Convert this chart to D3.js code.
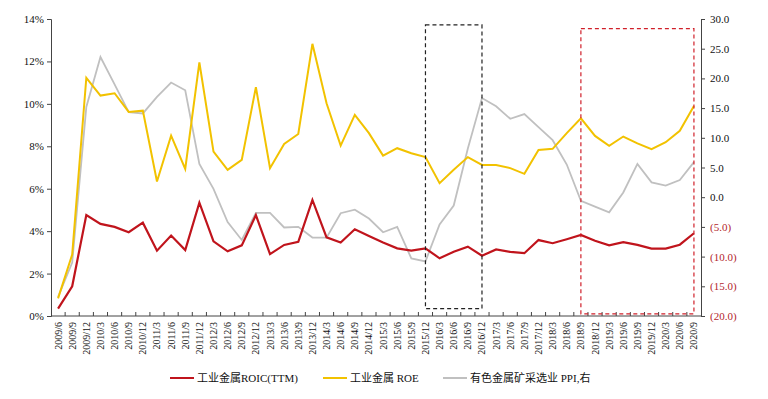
<!DOCTYPE html>
<html>
<head>
<meta charset="utf-8">
<script src="https://cdn.jsdelivr.net/npm/d3@7"></script>
<style>
  body { margin: 0; background: #fff; }
  svg text { font-family: "Liberation Serif", "Times New Roman", "Noto Sans CJK SC", serif; }
</style>
</head>
<body>
<div id="chart"></div>
<script>
(function(){

var quarters = ["2009/6","2009/9","2009/12",
  "2010/3","2010/6","2010/9","2010/12",
  "2011/3","2011/6","2011/9","2011/12",
  "2012/3","2012/6","2012/9","2012/12",
  "2013/3","2013/6","2013/9","2013/12",
  "2014/3","2014/6","2014/9","2014/12",
  "2015/3","2015/6","2015/9","2015/12",
  "2016/3","2016/6","2016/9","2016/12",
  "2017/3","2017/6","2017/9","2017/12",
  "2018/3","2018/6","2018/9","2018/12",
  "2019/3","2019/6","2019/9","2019/12",
  "2020/3","2020/6","2020/9"];

// 工业金属 ROIC(TTM), %
var roic = [0.35,1.4,4.76,4.34,4.2,3.95,4.4,3.08,3.79,3.11,5.34,3.52,3.05,3.33,4.76,
  2.92,3.35,3.5,5.47,3.71,3.46,4.09,3.77,3.46,3.19,3.08,3.19,2.72,3.03,3.27,2.84,
  3.14,3.02,2.96,3.58,3.43,3.62,3.82,3.55,3.33,3.48,3.35,3.18,3.18,3.36,3.9];

// 工业金属 ROE, %
var roe = [0.83,2.9,11.23,10.39,10.5,9.62,9.68,6.34,8.5,6.93,11.95,7.75,6.89,7.36,10.79,
  6.97,8.11,8.58,12.83,10.03,8.03,9.48,8.62,7.56,7.91,7.67,7.49,6.26,6.89,7.49,7.12,
  7.12,6.97,6.7,7.83,7.88,8.62,9.32,8.49,8.02,8.46,8.14,7.86,8.19,8.73,9.9];

// 有色金属矿采选业 PPI (right axis)
var ppi = [-16.8,-11,15.2,23.6,19.0,14.3,14.1,16.9,19.3,18.0,5.6,1.4,-4.2,-7.2,-2.65,
  -2.65,-5.1,-5.0,-6.8,-6.8,-2.7,-2.1,-3.6,-5.9,-5.0,-10.3,-10.8,-4.6,-1.4,8.2,16.7,
  15.3,13.2,14.0,11.8,9.6,5.5,-0.6,-1.6,-2.55,0.8,5.6,2.5,1.95,2.9,5.9];

var leftTicks = [0,2,4,6,8,10,12,14];
var rightTicks = [-20,-15,-10,-5,0,5,10,15,20,25,30];

var seriesNames = ["工业金属ROIC(TTM)", "工业金属 ROE", "有色金属矿采选业 PPI,右"];

// highlight boxes: from/to quarter, left-axis value range
var boxes = [
  {from: "2015/12", to: "2016/12", top: 13.72, bottom: 0.35, color: "#222"},
  {from: "2018/9", to: "2020/9", top: 13.55, bottom: 0.1, color: "#d0202a"}
];

var margin = {top: 19, right: 67, bottom: 83, left: 51},
    width = 768 - margin.left - margin.right,
    height = 399 - margin.top - margin.bottom;

var colors = {roic: "#c0141c", roe: "#f2c200", ppi: "#c0c0c0"};

var x = d3.scaleBand().domain(quarters).range([0, width]);
var xc = function(q) { return x(q) + x.bandwidth() / 2; };
var yL = d3.scaleLinear().domain([0, 14]).range([height, 0]);
var yR = d3.scaleLinear().domain([-20, 30]).range([height, 0]);

var svg = d3.select("#chart").append("svg")
    .attr("width", 768)
    .attr("height", 399);

var g = svg.append("g")
    .attr("transform", "translate(" + margin.left + "," + margin.top + ")");

// y axes
var yAxisL = d3.axisLeft(yL).tickValues(leftTicks).tickSize(4)
    .tickFormat(function(d) { return d + "%"; });
var gl = g.append("g").attr("class", "y axis").call(yAxisL);
gl.select(".domain").attr("stroke", "#444");
gl.selectAll(".tick line").attr("stroke", "#444");
gl.selectAll(".tick text").attr("font-size", 11).attr("fill", "#111").attr("x", -7);

var fmtR = function(d) {
  return d < 0 ? "(" + d3.format(".1f")(-d) + ")" : d3.format(".1f")(d);
};
var yAxisR = d3.axisRight(yR).tickValues(rightTicks).tickSize(4).tickFormat(fmtR);
var gr = g.append("g").attr("class", "y axis right")
    .attr("transform", "translate(" + width + ",0)")
    .call(yAxisR);
gr.select(".domain").attr("stroke", "#444");
gr.selectAll(".tick line").attr("stroke", "#444");
gr.selectAll(".tick text").attr("font-size", 11).attr("x", 9)
    .attr("fill", function(d) { return d < 0 ? "#b3262d" : "#111"; });

// x axis
var gx = g.append("g").attr("class", "x axis")
    .attr("transform", "translate(0," + height + ")");
gx.append("line").attr("x1", 0).attr("x2", width)
    .attr("stroke", "#444");
gx.selectAll(".xt").data(quarters.slice(1)).enter().append("line")
    .attr("class", "xt")
    .attr("x1", function(d) { return x(d); })
    .attr("x2", function(d) { return x(d); })
    .attr("y1", 0).attr("y2", -4)
    .attr("stroke", "#444");
gx.selectAll(".xl").data(quarters).enter().append("text")
    .attr("class", "xl")
    .attr("transform", function(d) { return "translate(" + (xc(d) + 3.5) + ",6) rotate(-90)"; })
    .attr("text-anchor", "end")
    .attr("font-size", 10)
    .attr("fill", "#111")
    .text(function(d) { return d; });

// lines
var lineL = function(vals) {
  return d3.line().x(function(d, i) { return xc(quarters[i]); })
    .y(function(d) { return yL(d); })(vals);
};
var lineR = function(vals) {
  return d3.line().x(function(d, i) { return xc(quarters[i]); })
    .y(function(d) { return yR(d); })(vals);
};

g.append("path").attr("d", lineR(ppi))
    .attr("fill", "none").attr("stroke", colors.ppi).attr("stroke-width", 1.8);
g.append("path").attr("d", lineL(roe))
    .attr("fill", "none").attr("stroke", colors.roe).attr("stroke-width", 2);
g.append("path").attr("d", lineL(roic))
    .attr("fill", "none").attr("stroke", colors.roic).attr("stroke-width", 2.2);

// dashed boxes
g.selectAll(".box").data(boxes).enter().append("rect")
    .attr("class", "box")
    .attr("x", function(d) { return xc(d.from); })
    .attr("width", function(d) { return xc(d.to) - xc(d.from); })
    .attr("y", function(d) { return yL(d.top); })
    .attr("height", function(d) { return yL(d.bottom) - yL(d.top); })
    .attr("fill", "none")
    .attr("stroke", function(d) { return d.color; })
    .attr("stroke-width", 1.2)
    .attr("stroke-dasharray", "4,3");

// legend
var legendX = [170, 323, 443];
var legendColors = [colors.roic, colors.roe, colors.ppi];
var lg = svg.append("g").attr("transform", "translate(0,378)");
seriesNames.forEach(function(name, i) {
  lg.append("line")
    .attr("x1", legendX[i]).attr("x2", legendX[i] + 24)
    .attr("stroke", legendColors[i]).attr("stroke-width", 2);
  lg.append("text")
    .attr("x", legendX[i] + 27).attr("dy", "0.35em")
    .attr("font-size", 11).attr("fill", "#111")
    .text(name);
});

})();
</script>
</body>
</html>
